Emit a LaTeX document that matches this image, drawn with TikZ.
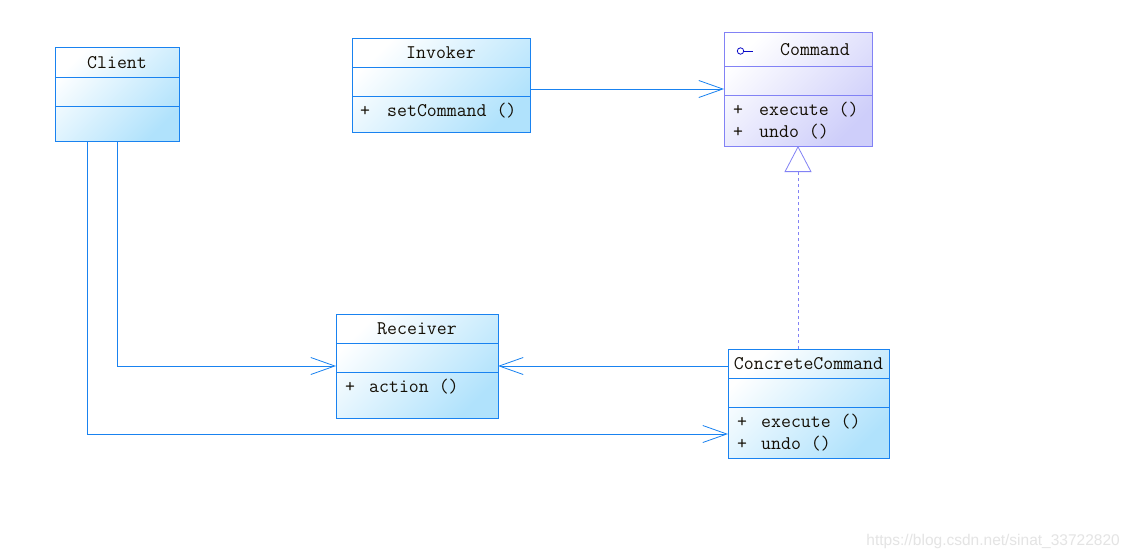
\documentclass[tikz,border=0pt]{standalone}
\usepackage{fontspec}
\newfontfamily\wmfont{Liberation Sans}
\usetikzlibrary{arrows.meta,calc}
\definecolor{cborder}{RGB}{25,130,240}
\definecolor{cfill}{RGB}{176,226,252}
\definecolor{iborder}{RGB}{130,130,245}
\definecolor{ifill}{RGB}{206,206,250}
\definecolor{icon}{RGB}{10,10,200}
\definecolor{txt}{RGB}{20,15,5}
\definecolor{wm}{RGB}{228,228,228}
\tikzset{
  cls/.style={draw=cborder, line width=1pt, top color=white, bottom color=cfill, shading angle=45, minimum width=#1, inner sep=0pt, outer sep=0pt},
  icls/.style={draw=iborder, line width=0.8pt, top color=white, bottom color=ifill, shading angle=45, inner sep=0pt, outer sep=0pt},
  sep/.style={draw=cborder, line width=1pt},
  isep/.style={draw=iborder, line width=0.8pt},
  ttl/.style={anchor=base, inner sep=0pt, text=txt, font=\fontsize{19.3}{22}\ttfamily},
  mem/.style={anchor=base west, inner sep=0pt, text=txt, font=\fontsize{19.3}{22}\ttfamily},
  assoc/.style={draw=cborder, line width=0.8pt, -{Straight Barb[length=24pt,width=17pt,line width=0.8pt]}},
  real/.style={draw=iborder, line width=0.8pt, dash pattern=on 3pt off 3pt, -{Triangle[open, length=26pt, width=27pt, fill=white, line width=0.8pt]}}
}
\begin{document}
\begin{tikzpicture}[x=1pt,y=-1pt]
\useasboundingbox[fill=white] (0,0) rectangle (1129,557);

% Client
\node[cls=124pt, minimum height=94pt] (client) at (117,94) {};
\draw[sep] (client.west |- 0,77) -- (client.east |- 0,77);
\draw[sep] (client.west |- 0,106) -- (client.east |- 0,106);
\node[ttl] (clientT) at (117,68) {Client};

% Invoker
\node[cls=178pt, minimum height=94pt] (invoker) at (441,85) {};
\draw[sep] (invoker.west |- 0,67) -- (invoker.east |- 0,67);
\draw[sep] (invoker.west |- 0,96) -- (invoker.east |- 0,96);
\node[ttl] (invokerT) at (441,58) {Invoker};
\node[mem] (invP) at (360,116) {+};
\node[mem] (invM) at (387,116) {setCommand ()};

% Command (interface)
\node[icls, minimum width=148pt, minimum height=114pt] (command) at (798,89) {};
\draw[isep] (command.west |- 0,66) -- (command.east |- 0,66);
\draw[isep] (command.west |- 0,95) -- (command.east |- 0,95);
\draw[icon, line width=0.8pt] (740.5,51) circle (3.2pt);
\draw[icon, line width=0.8pt] (743.7,51) -- (753,51);
\node[ttl] (commandT) at (815,55) {Command};
\node[mem] (cmdP1) at (733,115.5) {+};
\node[mem] (cmdM1) at (759,115.5) {execute ()};
\node[mem] (cmdP2) at (733,137) {+};
\node[mem] (cmdM2) at (759,137) {undo ()};

% Receiver
\node[cls=162pt, minimum height=104pt] (receiver) at (417,366) {};
\draw[sep] (receiver.west |- 0,343) -- (receiver.east |- 0,343);
\draw[sep] (receiver.west |- 0,372) -- (receiver.east |- 0,372);
\node[ttl] (receiverT) at (417,334) {Receiver};
\node[mem] (recP) at (345,392.5) {+};
\node[mem] (recM) at (369,392.5) {action ()};

% ConcreteCommand
\node[cls=161pt, minimum height=109pt] (concrete) at (808.5,403.5) {};
\draw[sep] (concrete.west |- 0,378) -- (concrete.east |- 0,378);
\draw[sep] (concrete.west |- 0,407) -- (concrete.east |- 0,407);
\node[ttl] (concreteT) at (808.5,369.5) {ConcreteCommand};
\node[mem] (ccP1) at (737,427.5) {+};
\node[mem] (ccM1) at (761,427.5) {execute ()};
\node[mem] (ccP2) at (737,449) {+};
\node[mem] (ccM2) at (761,449) {undo ()};

% Connectors
\draw[assoc] (invoker.east |- command.west) -- (command.west);
\draw[assoc] (concrete.west |- receiver.east) -- (receiver.east);
\draw[assoc] (client.south) -- (client.south |- receiver.west) -- (receiver.west);
\coordinate (ccin) at ([yshift=-30.5pt]concrete.west);
\draw[assoc] ([xshift=-30pt]client.south) -- ([xshift=-30pt]client.south |- ccin) -- (ccin);
\draw[real] (command.south |- concrete.north) -- (command.south);

% Watermark
\node[anchor=base east, inner sep=0pt, text=wm, font=\fontsize{15.5}{18}\wmfont] (wmark) at (1120,545) {https://blog.csdn.net/sinat\_33722820};
\end{tikzpicture}
\end{document}
